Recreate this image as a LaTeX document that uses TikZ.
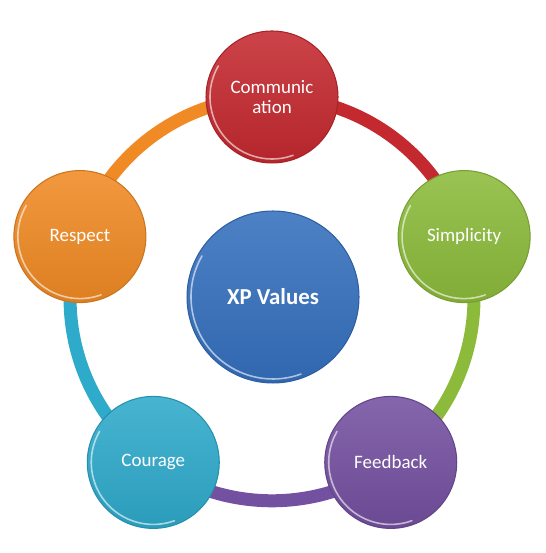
\documentclass[tikz,border=0pt]{standalone}
\usepackage{fontspec}
\setmainfont{Carlito}
\usepackage{tikz}
\usetikzlibrary{calc,positioning,backgrounds}
\definecolor{redc}{HTML}{C4292F}
\definecolor{greenc}{HTML}{8CBB3B}
\definecolor{purplec}{HTML}{7450A0}
\definecolor{tealc}{HTML}{2EAACB}
\definecolor{orangec}{HTML}{F08A24}
\definecolor{bluec}{HTML}{3570BE}
\tikzset{
  ball/.style={circle,draw=#1!85!black,line width=0.6pt,top color=#1!88!white,bottom color=#1!92!black,
    text=white,align=center,inner sep=0pt,minimum size=2.64cm,font=\fontsize{10.8}{11.6}\selectfont},
  hub/.style={ball=#1,minimum size=3.44cm,font=\bfseries\fontsize{13}{15}\selectfont},
  ring/.style={line width=0.26cm,draw=#1,bend left=36,looseness=0.94},
  gloss/.style={white,opacity=0.6,line width=0.9pt,line cap=round}
}
\begin{document}
\begin{tikzpicture}[x=0.02cm,y=0.02cm]
\useasboundingbox (0,0) rectangle (546,553);
\coordinate (o) at (272,254);
% the five values on the ring
\node[ball=redc] (comm) at ($(o)+(90:202)$) {Communic\\ation};
\node[ball=greenc] (simp) at ($(o)+(18:202)$) {Simplicity};
\node[ball=purplec] (feed) at ($(o)+(-54:202)$) {Feedback};
\node[ball=tealc] (cour) at ($(o)+(-126:202)$) {Courage};
\node[ball=orangec] (resp) at ($(o)+(162:202)$) {Respect};
\node[hub=bluec] (xp) at (273,256) {XP Values};
% shine along the lower left rims
\foreach \n/\r in {comm/62,simp/62,feed/62,cour/62,resp/62,xp/82}
  \draw[gloss] ($(\n.center)+(150:\r)$) arc[start angle=150,end angle=290,radius=\r];
\begin{pgfonlayer}{background}
\draw[ring=redc] (comm.center) to (simp.center);
\draw[ring=greenc] (simp.center) to (feed.center);
\draw[ring=purplec] (feed.center) to (cour.center);
\draw[ring=tealc] (cour.center) to (resp.center);
\draw[ring=orangec] (resp.center) to (comm.center);
\end{pgfonlayer}
\end{tikzpicture}
\end{document}
